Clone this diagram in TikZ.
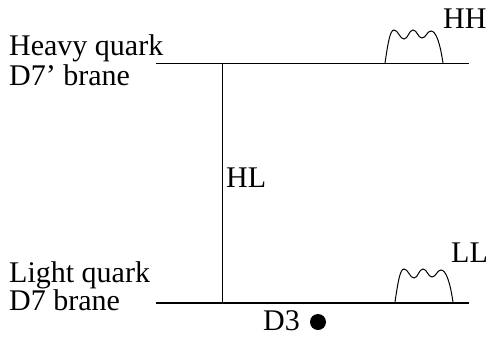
\documentclass[tikz,border=0pt]{standalone}
\usepackage{fontspec}
\setmainfont{Liberation Serif}
\begin{document}
\begin{tikzpicture}[x=1pt,y=-1pt,
  lbl/.style={anchor=base west,inner sep=0pt,font=\fontsize{30}{32}\selectfont},
  brane/.style={line width=1.8pt},
  strline/.style={line width=1pt},
  stringshape/.pic={\draw[line width=1pt] (0,0) .. controls (3,-20) and (5,-33) .. (9,-33)
      .. controls (13,-33) and (15,-24) .. (19,-24)
      .. controls (23,-24) and (24,-33) .. (28,-33)
      .. controls (32,-33) and (33,-25) .. (37,-25)
      .. controls (41,-25) and (42,-32) .. (46,-32)
      .. controls (51,-32) and (55,-20) .. (58,0);}]
\useasboundingbox (0,0) rectangle (488,341);
% brane end points
\coordinate (t1) at (156,63.5);
\coordinate (t2) at (469,63.5);
\coordinate (b1) at (156,303);
\coordinate (b2) at (469,303);
\coordinate (vt) at (222,63.5);
\coordinate (vb) at (222,303);
\draw[brane] (t1) -- (t2);
\draw[brane] (b1) -- (b2);
\draw[strline] (vt) -- (vb);
% strings
\pic at (385,63) {stringshape};
\pic at (395,302) {stringshape};
% labels
\node[lbl] (hq) at (9,55) {Heavy quark};
\node[lbl] (d7p) at (9,85) {D7’ brane};
\node[lbl] (lq) at (9,282) {Light quark};
\node[lbl] (d7) at (9,310) {D7 brane};
\node[lbl] (hh) at (443,28) {HH};
\node[lbl] (ll) at (451,262) {LL};
\node[lbl] (hl) at (226,187) {HL};
\node[lbl] (d3) at (263,330) {D3};
\node[circle,fill,inner sep=0pt,minimum size=16pt] (d3dot) at (318,322) {};
\end{tikzpicture}
\end{document}
